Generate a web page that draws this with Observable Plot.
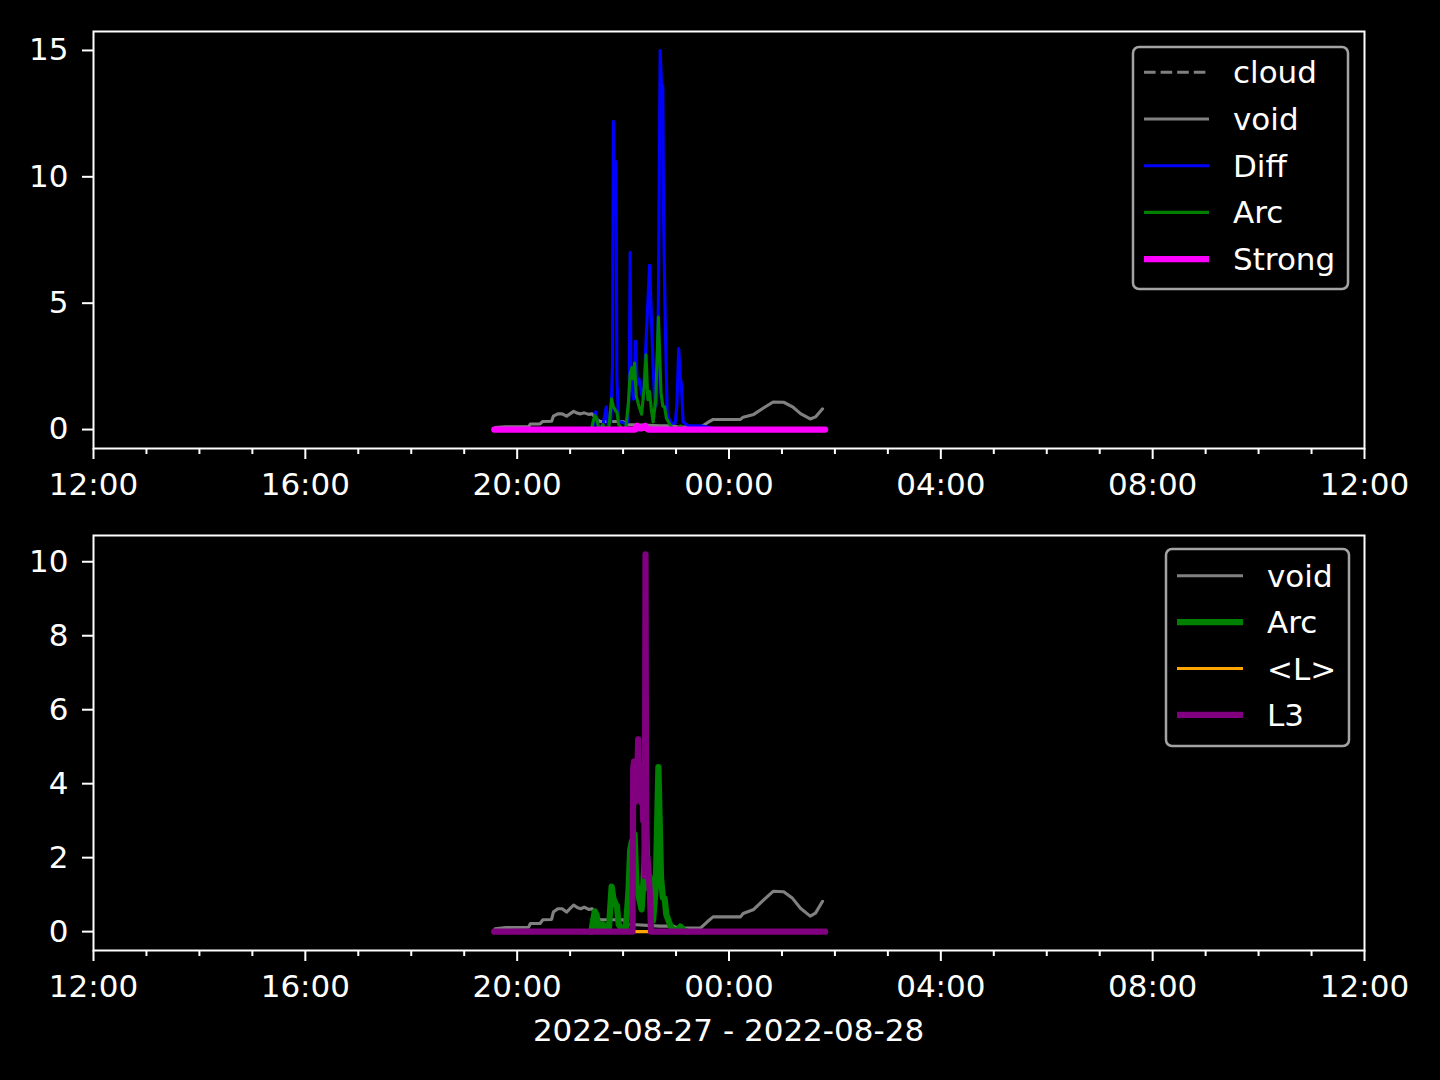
<!DOCTYPE html>
<html><head><meta charset="utf-8">
<script src="https://cdn.jsdelivr.net/npm/d3@7"></script>
<script src="https://cdn.jsdelivr.net/npm/@observablehq/plot@0.6"></script>
<style>
body{margin:0;background:#000;}
#fig{position:relative;width:1440px;height:1080px;background:#000;font-family:"DejaVu Sans",sans-serif;color:#fff;overflow:hidden}
#fig svg{position:absolute;left:0}
</style></head><body><div id="fig"></div>
<script>
// ---------- data (clock times, 2022-08-27 12:00 → 2022-08-28 12:00) ----------
const cloudTimes = ["19:34","01:49"];
const cloudValues = [0, 0];

const voidTimes = ["19:35","19:47","20:13","20:15","20:26","20:29","20:39","20:41","20:46","20:51","20:56","20:59","21:04","21:08","21:12","21:16","21:21","21:25","21:30","21:34","21:42","22:00","22:05","22:42","22:57","23:02","23:28","23:36","23:42","00:13","00:16","00:28","00:39","00:50","01:02","01:12","01:21","01:32","01:38","01:46"];
const voidValues = [0.08,0.11,0.12,0.22,0.22,0.32,0.33,0.53,0.62,0.62,0.53,0.6,0.72,0.65,0.62,0.66,0.6,0.62,0.4,0.32,0.32,0.32,0.2,0.15,0.15,0.1,0.1,0.28,0.4,0.4,0.49,0.6,0.85,1.09,1.08,0.9,0.63,0.42,0.5,0.82];

const diffTimes = ["21:23","21:26","21:29","21:31","21:34","21:37","21:41","21:43","21:46","21:48","21:49","21:50","21:52","21:53","21:55","21:59","22:03","22:05","22:07","22:08","22:09","22:12","22:14","22:16","22:18","22:21","22:23","22:26","22:30","22:32","22:34","22:36","22:38","22:40","22:42","22:44","22:45","22:46","22:48","22:50","22:54","22:59","23:01","23:03","23:05","23:06","23:08","23:14","23:28","23:42"];
const diffValues = [0,0.15,0.7,0.2,0.1,0.15,0.9,0.2,0.3,2.5,12.2,8.5,10.6,2.0,0.3,0.3,0.2,0.3,1.5,7.0,2.0,1.2,3.5,1.8,2.0,1.4,1.2,3.5,6.5,4.5,2.5,0.9,1.0,5.0,15.0,13.2,13.6,8.0,3.8,0.6,0.25,0.25,1.0,3.2,2.0,1.8,0.3,0.15,0.15,0.05];

const arcTimes = ["21:24","21:26","21:28","21:30","21:32","21:35","21:37","21:39","21:44","21:47","21:49","21:52","21:53","21:55","21:59","22:03","22:06","22:08","22:10","22:11","22:13","22:15","22:18","22:21","22:24","22:26","22:28","22:30","22:32","22:34","22:37","22:40","22:43","22:45","22:47","22:49","22:53","22:56","23:02","23:05","23:08","23:13"];
const arcValues = [0,0.3,0.55,0.45,0.1,0.05,0.2,0.05,0.1,1.22,0.9,0.72,0.7,0.2,0.05,0.05,1.05,2.2,2.45,2.0,2.63,1.3,0.92,0.6,1.7,2.96,1.18,1.5,0.8,0.3,1.18,4.45,1.45,0.92,0.9,0.46,0.2,0.05,0.05,0.14,0.05,0];

const strongTimes = ["19:34","22:14","22:16","22:18","22:21","22:23","22:25","22:27","22:29","01:49"];
const strongValues = [0,0,0.15,0.05,0.05,0.12,0.15,0.03,0,0];

const meanLTimes = ["19:34","01:49"];
const meanLValues = [0, 0];

const l3Times = ["19:34","22:10:39","22:11:27","22:12:21","22:13:29","22:14:37","22:15:45","22:17:07","22:18:15","22:19:23","22:20:31","22:21:39","22:22:47","22:23:55","22:24:42","22:25:23","22:26:17","22:27:39","22:29:00","22:30:29","22:31:37","01:49"];
const l3Values = [0,0,4.4,4.6,3.5,4.5,4.0,5.2,3.8,4.5,3.5,4.2,3.0,3.5,1.5,10.2,1.5,2.0,1.5,1.0,0,0];

const topYTicks = [0,5,10,15];
const bottomYTicks = [0,2,4,6,8,10];
const xAxisLabel = "2022-08-27 - 2022-08-28";

// ---------- helpers ----------
const BASE = Date.UTC(2022,7,27,12);
function toDate(hms){
  const [h,m,s=0] = hms.split(":").map(Number);
  let secs = h*3600 + m*60 + s - 43200; if (secs < 0) secs += 86400;
  return new Date(BASE + secs*1000);
}
function table(times, values){ return times.map((t,i)=>({t: toDate(t), v: values[i]})); }
const xDomain = [new Date(BASE), new Date(BASE + 24*3600e3)];
const majorTicks = d3.utcHour.every(4).range(xDomain[0], new Date(BASE + 24*3600e3 + 1));
const minorTicks = d3.utcHour.range(xDomain[0], new Date(BASE + 24*3600e3 + 1)).filter(d => d.getUTCHours() % 4 !== 0);
const fmt = d3.utcFormat("%H:%M");

const S = {
  cloud: {stroke:"#808080", strokeWidth:3.1, strokeDasharray:"11.6,5"},
  void:  {stroke:"#808080", strokeWidth:3.1},
  diff:  {stroke:"#0000ff", strokeWidth:3.1},
  arcThin: {stroke:"#008000", strokeWidth:3.1},
  arcThick:{stroke:"#008000", strokeWidth:6.2},
  strong:{stroke:"#ff00ff", strokeWidth:6.2},
  meanL: {stroke:"#ffa500", strokeWidth:3.1},
  l3:    {stroke:"#800080", strokeWidth:6.2}
};

function axes(yTicks){
  return [
    Plot.axisX(minorTicks, {tickSize:6, tickFormat: () => "", stroke:"white", strokeWidth:2}),
    Plot.axisX(majorTicks, {tickSize:11, tickPadding:13, tickFormat: fmt, stroke:"white", strokeWidth:2}),
    Plot.axisY(yTicks, {tickSize:11, tickPadding:14, stroke:"white", strokeWidth:2}),
    Plot.frame({stroke:"white", strokeWidth:2})
  ];
}
const plotStyle = {background:"transparent", color:"white", fontFamily:"DejaVu Sans", fontSize:"31px", overflow:"visible"};

const topPlot = Plot.plot({
  width:1440, height:505, marginLeft:93, marginRight:76, marginTop:31, marginBottom:57,
  style: plotStyle,
  x:{type:"utc", domain:xDomain, label:null},
  y:{domain:[-0.75,15.75], label:null},
  marks:[
    Plot.line(table(cloudTimes,cloudValues), {x:"t", y:"v", ...S.cloud}),
    Plot.line(table(voidTimes,voidValues), {x:"t", y:"v", ...S.void}),
    Plot.line(table(diffTimes,diffValues), {x:"t", y:"v", ...S.diff}),
    Plot.line(table(arcTimes,arcValues), {x:"t", y:"v", ...S.arcThin}),
    Plot.line(table(strongTimes,strongValues), {x:"t", y:"v", ...S.strong}),
    ...axes(topYTicks)
  ]
});
topPlot.style.top = "0px";

const bottomPlot = Plot.plot({
  width:1440, height:575, marginLeft:93, marginRight:76, marginTop:30, marginBottom:130,
  style: plotStyle,
  x:{type:"utc", domain:xDomain, label:null},
  y:{domain:[-0.51,10.71], label:null},
  marks:[
    Plot.line(table(voidTimes,voidValues), {x:"t", y:"v", ...S.void}),
    Plot.line(table(arcTimes,arcValues), {x:"t", y:"v", ...S.arcThick}),
    Plot.line(table(meanLTimes,meanLValues), {x:"t", y:"v", ...S.meanL}),
    Plot.line(table(l3Times,l3Values), {x:"t", y:"v", ...S.l3}),
    ...axes(bottomYTicks)
  ]
});
bottomPlot.style.top = "505px";

const fig = document.getElementById("fig");
fig.appendChild(topPlot);
fig.appendChild(bottomPlot);

// ---------- legends & x label overlay ----------
const ov = d3.select(fig).append("svg").attr("width",1440).attr("height",1080).style("top","0px")
  .style("font-family","DejaVu Sans").style("font-size","31px");

function legend(box, items, lineX0, lineX1, textX){
  ov.append("rect").attr("x",box.x).attr("y",box.y).attr("width",box.w).attr("height",box.h)
    .attr("rx",6).attr("fill","#000").attr("stroke","#a3a3a3").attr("stroke-width",2.5);
  items.forEach((it,i)=>{
    const y = box.row0 + i*box.step;
    const l = ov.append("line").attr("x1",box.x+lineX0).attr("x2",box.x+lineX1).attr("y1",y).attr("y2",y)
      .attr("stroke",it.s.stroke).attr("stroke-width",it.s.strokeWidth);
    if (it.s.strokeDasharray) l.attr("stroke-dasharray",it.s.strokeDasharray);
    ov.append("text").attr("x",box.x+textX).attr("y",y+11).attr("fill","white").text(it.label);
  });
}
legend({x:1133,y:47,w:215,h:242,row0:72.3,step:46.7},
  [{label:"cloud",s:S.cloud},{label:"void",s:S.void},{label:"Diff",s:S.diff},{label:"Arc",s:S.arcThin},{label:"Strong",s:S.strong}],
  11, 76, 100);
legend({x:1166,y:549,w:183,h:197,row0:575.7,step:46.4},
  [{label:"void",s:S.void},{label:"Arc",s:S.arcThick},{label:"<L>",s:S.meanL},{label:"L3",s:S.l3}],
  11, 77, 101);

ov.append("text").attr("x",728.5).attr("y",1041).attr("text-anchor","middle").attr("fill","white").text(xAxisLabel);
</script></body></html>
